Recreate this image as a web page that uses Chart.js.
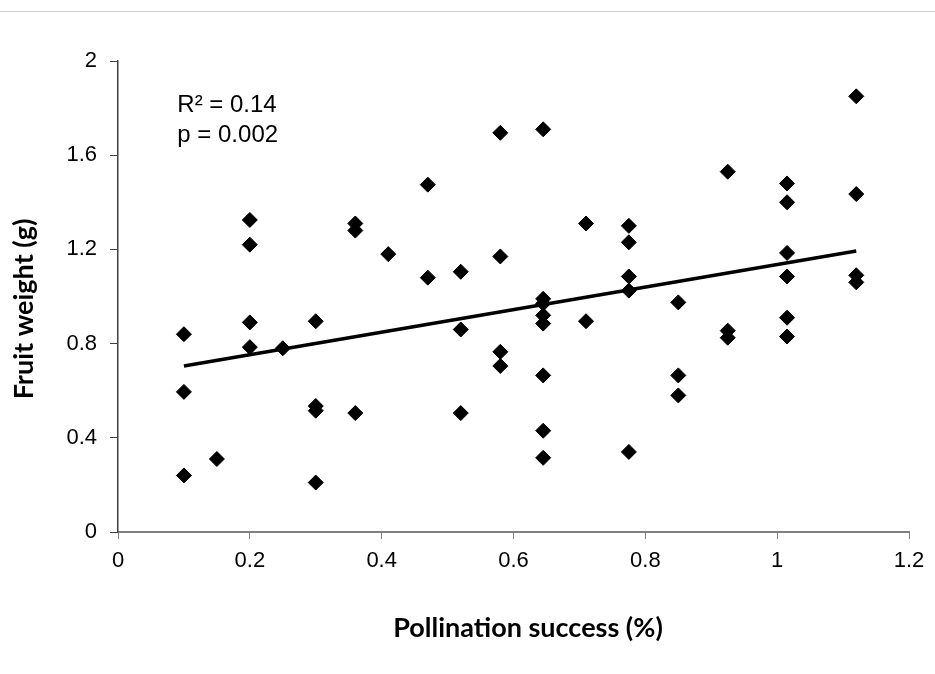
<!DOCTYPE html>
<html>
<head>
<meta charset="utf-8">
<script src="https://cdn.jsdelivr.net/npm/chart.js@4.4.0/dist/chart.umd.min.js"></script>
<style>
  body { margin: 0; background: #fff; }
  #wrap { position: relative; width: 935px; height: 674px; }
  #topline { position: absolute; left: 0; top: 11px; width: 935px; height: 0; border-top: 1px solid #d0d0d0; }
  canvas { position: absolute; left: 0; top: 0; }
</style>
</head>
<body>
<div id="wrap">
  <canvas id="scatterChart" width="935" height="674"></canvas>
  <div id="topline"></div>
</div>
<script>
// pollination success (%) for each fruit
const pollination = [
  0.10, 0.10, 0.10,
  0.15,
  0.20, 0.20, 0.20, 0.20,
  0.25,
  0.30, 0.30, 0.30, 0.30,
  0.36, 0.36, 0.36,
  0.41,
  0.47, 0.47,
  0.52, 0.52, 0.52,
  0.58, 0.58, 0.58, 0.58,
  0.645, 0.645, 0.645, 0.645, 0.645, 0.645, 0.645, 0.645,
  0.71, 0.71,
  0.775, 0.775, 0.775, 0.775, 0.775,
  0.85, 0.85, 0.85,
  0.925, 0.925, 0.925,
  1.015, 1.015, 1.015, 1.015, 1.015, 1.015,
  1.12, 1.12, 1.12, 1.12
];
// fruit weight (g)
const fruitWeight = [
  0.84, 0.595, 0.24,
  0.31,
  1.325, 1.22, 0.89, 0.785,
  0.78,
  0.895, 0.535, 0.515, 0.21,
  1.31, 1.28, 0.505,
  1.18,
  1.475, 1.08,
  1.105, 0.86, 0.505,
  1.695, 1.17, 0.765, 0.705,
  1.71, 0.99, 0.97, 0.92, 0.885, 0.665, 0.43, 0.315,
  1.31, 0.895,
  1.30, 1.23, 1.085, 1.025, 0.34,
  0.975, 0.665, 0.58,
  1.53, 0.855, 0.825,
  1.48, 1.40, 1.185, 1.085, 0.91, 0.83,
  1.85, 1.435, 1.09, 1.06
];
// regression line ends
const trendX = [0.1, 1.12];
const trendY = [0.705, 1.193];

const xTickLabels = ["0", "0.2", "0.4", "0.6", "0.8", "1", "1.2"];
const yTickLabels = ["0", "0.4", "0.8", "1.2", "1.6", "2"];
const statsText = ["R\u00b2 = 0.14", "p = 0.002"];
const statsAt = { x: 0.09, y: 1.81 }; // in data units
const xTitle = "Pollination success (%)";
const yTitle = "Fruit weight (g)";

const points = pollination.map((p, i) => ({ x: p, y: fruitWeight[i] }));
const trend = trendX.map((x, i) => ({ x: x, y: trendY[i] }));

// stats text inside the plot + the two axis titles (not centred on the axes in the original)
const labelsPlugin = {
  id: "labels",
  afterDraw(chart) {
    const ctx = chart.ctx;
    const px = chart.scales.x.getPixelForValue(statsAt.x);
    const py = chart.scales.y.getPixelForValue(statsAt.y);
    ctx.save();
    ctx.fillStyle = "#000";
    ctx.font = "24px 'Liberation Sans'";
    ctx.textBaseline = "middle";
    statsText.forEach((t, i) => ctx.fillText(t, px, py + i * 30));

    ctx.font = "bold 27px Lato";
    ctx.textAlign = "center";
    ctx.fillText(xTitle, 528, 628);
    ctx.translate(24, 309);
    ctx.rotate(-Math.PI / 2);
    ctx.fillText(yTitle, 0, 0);
    ctx.restore();
  }
};

const tickFont = { family: "'Liberation Sans'", size: 22 };

new Chart(document.getElementById("scatterChart").getContext("2d"), {
  type: "scatter",
  data: {
    datasets: [
      {
        label: "Fruits",
        data: points,
        pointStyle: "rectRot",
        pointRadius: 7.5,
        backgroundColor: "#000",
        borderColor: "#000",
        borderWidth: 1
      },
      {
        label: "Trend",
        type: "line",
        data: trend,
        borderColor: "#000",
        borderWidth: 3.5,
        pointRadius: 0,
        fill: false
      }
    ]
  },
  options: {
    responsive: false,
    animation: false,
    layout: { padding: { top: 61, right: 26, left: 0, bottom: 0 } },
    plugins: { legend: { display: false }, tooltip: { enabled: false } },
    scales: {
      x: {
        type: "linear",
        min: 0,
        max: 1.2,
        afterFit: (s) => { s.height = 142; },
        border: { color: "#7f7f7f", width: 2 },
        grid: { drawOnChartArea: false, tickLength: 7, color: "#7f7f7f" },
        ticks: {
          stepSize: 0.2,
          padding: 9,
          color: "#000",
          font: tickFont,
          callback: (v, i) => xTickLabels[i]
        }
      },
      y: {
        min: 0,
        max: 2,
        afterFit: (s) => { s.width = 118; },
        border: { color: "#404040", width: 1.5 },
        grid: { drawOnChartArea: false, tickLength: 8, color: "#404040" },
        ticks: {
          stepSize: 0.4,
          padding: 13,
          color: "#000",
          font: tickFont,
          callback: (v, i) => yTickLabels[i]
        }
      }
    }
  },
  plugins: [labelsPlugin]
});
</script>
</body>
</html>
